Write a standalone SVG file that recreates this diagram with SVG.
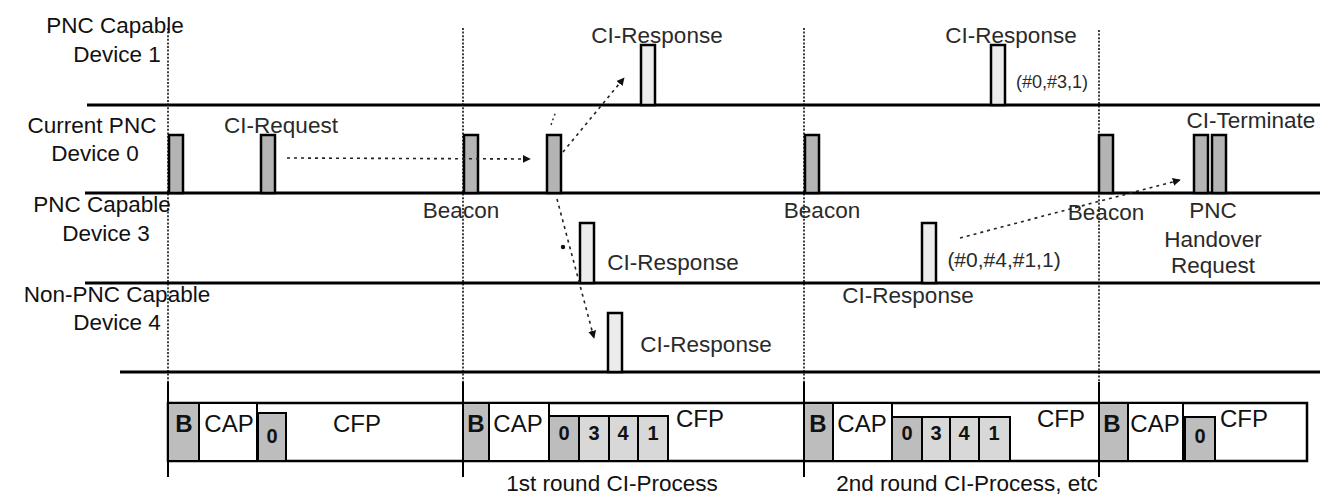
<svg xmlns="http://www.w3.org/2000/svg" width="1332" height="501" viewBox="0 0 1332 501">
<style>
text{font-family:"Liberation Sans",Arial,sans-serif;font-size:22.5px;fill:#111;text-anchor:middle}
.ci{fill:#2a2a2a}
.ft{font-size:24px}
.dg{font-size:20px;font-weight:bold}
.lane{stroke:#000;stroke-width:3;fill:none}
.vd{stroke:#111;stroke-width:1.6;stroke-dasharray:2 1.6;fill:none}
.vs{stroke:#000;stroke-width:2;fill:none}
.p0{fill:#b4b4b4;stroke:#000;stroke-width:2.5}
.p1{fill:#ececec;stroke:#000;stroke-width:2.5}
.fb{fill:#fff;stroke:#000;stroke-width:2.5}
.fg{fill:#bdbdbd;stroke:#000;stroke-width:2}
.fl{fill:#d8d8d8;stroke:#000;stroke-width:2}
.fw{fill:#fff;stroke:#000;stroke-width:2}
.cn{stroke:#222;stroke-width:1.6;stroke-dasharray:3 4;fill:none;marker-end:url(#ah)}
</style>
<defs>
<marker id="ah" viewBox="0 0 10 10" refX="9" refY="5" markerWidth="8" markerHeight="8" markerUnits="userSpaceOnUse" orient="auto">
<path d="M0,0 L10,5 L0,10 z" fill="#111"/>
</marker>
</defs>
<rect width="1332" height="501" fill="#fff"/>

<g id="gridlines">
<line class="vd" x1="168" y1="28" x2="168" y2="382"/>
<line class="vd" x1="463" y1="28" x2="463" y2="382"/>
<line class="vd" x1="804" y1="28" x2="804" y2="382"/>
<line class="vd" x1="1099" y1="30" x2="1099" y2="382"/>
</g>

<g id="lane-device1">
<line class="lane" x1="87" y1="105" x2="1320" y2="105"/>
<text x="115" y="33">PNC Capable</text>
<text x="117" y="62">Device 1</text>
</g>
<g id="lane-device0">
<line class="lane" x1="85" y1="193" x2="1320" y2="193"/>
<text x="92" y="133">Current PNC</text>
<text x="95" y="161">Device 0</text>
</g>
<g id="lane-device3">
<line class="lane" x1="85" y1="283" x2="1320" y2="283"/>
<text x="102" y="212">PNC Capable</text>
<text x="106" y="241">Device 3</text>
</g>
<g id="lane-device4">
<line class="lane" x1="120" y1="372" x2="1320" y2="372"/>
<text x="117" y="302">Non-PNC Capable</text>
<text x="117" y="330">Device 4</text>
</g>

<g id="beacon1"><rect class="p0" x="169" y="135" width="14" height="58"/></g>
<g id="ci-request"><rect class="p0" x="261" y="135" width="14" height="58"/><text class="ci" x="281" y="133">CI-Request</text></g>
<g id="beacon2"><rect class="p0" x="464" y="135" width="14" height="58"/><text class="ci" x="461" y="218">Beacon</text></g>
<g id="poll1"><rect class="p0" x="547" y="135" width="14" height="58"/></g>
<g id="beacon3"><rect class="p0" x="805" y="135" width="14" height="58"/><text class="ci" x="822" y="218">Beacon</text></g>
<g id="beacon4"><rect class="p0" x="1099" y="135" width="14" height="58"/><text class="ci" x="1106" y="220">Beacon</text></g>
<g id="ci-terminate">
<rect class="p0" x="1194" y="135" width="14" height="58"/>
<rect class="p0" x="1212" y="135" width="14" height="58"/>
<text class="ci" x="1251" y="128">CI-Terminate</text>
</g>
<g id="handover-label">
<text class="ci" x="1213" y="218">PNC</text>
<text class="ci" x="1213" y="247">Handover</text>
<text class="ci" x="1213" y="273">Request</text>
</g>

<g id="d1-resp1"><rect class="p1" x="641" y="45" width="14" height="60"/><text class="ci" x="657" y="43">CI-Response</text></g>
<g id="d1-resp2"><rect class="p1" x="991" y="45" width="14" height="60"/><text class="ci" x="1011" y="43">CI-Response</text><text class="ci" x="1052" y="88" style="font-size:18px">(#0,#3,1)</text></g>
<g id="d3-resp1"><rect class="p1" x="580" y="223" width="14" height="60"/><text class="ci" x="673" y="270">CI-Response</text></g>
<g id="d3-resp2"><rect class="p1" x="922" y="223" width="14" height="60"/><text class="ci" x="1004" y="267" style="font-size:21px">(#0,#4,#1,1)</text><text class="ci" x="908" y="303">CI-Response</text></g>
<g id="d4-resp1"><rect class="p1" x="608" y="313" width="14" height="59"/><text class="ci" x="706" y="352">CI-Response</text></g>

<g id="connectors">
<line class="cn" x1="287" y1="158" x2="530" y2="159"/>
<line class="cn" x1="563" y1="152" x2="624" y2="78"/>
<line class="cn" x1="557" y1="199" x2="594" y2="338"/>
<circle cx="563" cy="247" r="2.2" fill="#111"/>
<line style="stroke:#333;stroke-width:1.5;stroke-dasharray:2 3" x1="551" y1="125" x2="556" y2="111"/>
<line class="cn" x1="960" y1="238" x2="1180" y2="180"/>
</g>

<g id="superframes">
<rect class="fb" x="168" y="403" width="1139" height="58"/>
<line class="vs" x1="168" y1="382" x2="168" y2="477"/>
<line class="vs" x1="463" y1="382" x2="463" y2="477"/>
<line class="vs" x1="804" y1="382" x2="804" y2="477"/>
<line class="vs" x1="1099" y1="382" x2="1099" y2="477"/>
</g>

<g id="sf1">
<rect class="fg" x="168" y="403" width="31" height="58"/>
<rect class="fw" x="199" y="403" width="58" height="58"/>
<rect class="fg" x="258" y="413" width="28" height="48"/>
<text class="ft" x="184" y="432" style="font-weight:bold">B</text>
<text class="ft" x="229" y="432">CAP</text>
<text class="dg" x="272" y="443">0</text>
<text class="ft" x="357" y="432">CFP</text>
</g>

<g id="sf2">
<rect class="fg" x="463" y="403" width="26" height="58"/>
<rect class="fw" x="489" y="403" width="60" height="58"/>
<rect class="fg" x="549" y="416" width="30" height="45"/>
<rect class="fl" x="579" y="416" width="30" height="45"/>
<rect class="fl" x="609" y="416" width="29" height="45"/>
<rect class="fl" x="638" y="416" width="30" height="45"/>
<text class="ft" x="476" y="432" style="font-weight:bold">B</text>
<text class="ft" x="518" y="432">CAP</text>
<text class="dg" x="564" y="440">0</text>
<text class="dg" x="594" y="440">3</text>
<text class="dg" x="623" y="440">4</text>
<text class="dg" x="653" y="440">1</text>
<text class="ft" x="700" y="427">CFP</text>
<text x="612" y="491">1st round CI-Process</text>
</g>

<g id="sf3">
<rect class="fg" x="804" y="403" width="29" height="58"/>
<rect class="fw" x="833" y="403" width="59" height="58"/>
<rect class="fg" x="892" y="417" width="30" height="44"/>
<rect class="fl" x="922" y="417" width="28" height="44"/>
<rect class="fl" x="950" y="417" width="29" height="44"/>
<rect class="fl" x="979" y="417" width="31" height="44"/>
<text class="ft" x="818" y="432" style="font-weight:bold">B</text>
<text class="ft" x="862" y="432">CAP</text>
<text class="dg" x="907" y="440">0</text>
<text class="dg" x="936" y="440">3</text>
<text class="dg" x="964" y="440">4</text>
<text class="dg" x="994" y="440">1</text>
<text class="ft" x="1061" y="427">CFP</text>
<text x="967" y="491">2nd round CI-Process, etc</text>
</g>

<g id="sf4">
<rect class="fg" x="1099" y="403" width="29" height="58"/>
<rect class="fw" x="1128" y="403" width="55" height="58"/>
<rect class="fg" x="1185" y="417" width="30" height="44"/>
<text class="ft" x="1112" y="432" style="font-weight:bold">B</text>
<text class="ft" x="1155" y="432">CAP</text>
<text class="dg" x="1200" y="443">0</text>
<text class="ft" x="1244" y="427">CFP</text>
</g>
</svg>
